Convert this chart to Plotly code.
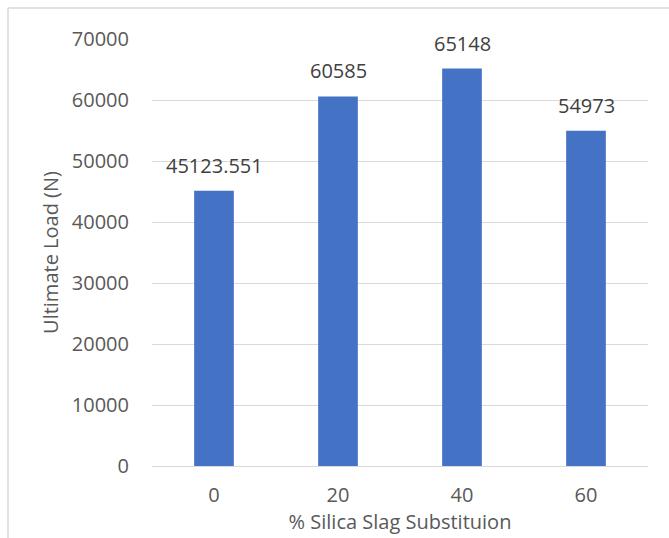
import plotly.graph_objects as go

# Ultimate load for each silica slag substitution level
substitution = ["0", "20", "40", "60"]
ultimate_load = [45123.551, 60585, 65148, 54973]

W, H = 669, 538
L, R, T, B = 152, 21, 39, 72

BAR_COLOR = "#4472C4"
GRID = "#D9D9D9"
TICK_TXT = "#595959"
LABEL_TXT = "#404040"
FONT = "Open Sans"

fig = go.Figure(
    go.Bar(
        x=substitution,
        y=ultimate_load,
        marker=dict(color=BAR_COLOR, line=dict(width=0)),
        hoverinfo="x+y",
    )
)

# value labels above each bar (category index positions)
for i, val in enumerate(ultimate_load):
    fig.add_annotation(
        x=i, y=val, xref="x", yref="y", text=str(val), showarrow=False,
        yanchor="bottom", yshift=10,
        font=dict(family=FONT, size=20, color=LABEL_TXT),
    )

# light frame around the chart area (top and left edges)
pw = W - L - R
ph = H - T - B
x0 = (8 - L) / pw
y0 = (H - B - 8) / ph
fig.add_shape(type="line", xref="paper", yref="paper",
              x0=x0, x1=(W - L) / pw + 0.1, y0=y0, y1=y0,
              line=dict(color=GRID, width=1.5))
fig.add_shape(type="line", xref="paper", yref="paper",
              x0=x0, x1=x0, y0=y0, y1=-(B + 10) / ph,
              line=dict(color=GRID, width=1.5))

fig.update_layout(
    width=W, height=H,
    margin=dict(l=L, r=R, t=T, b=B),
    paper_bgcolor="white", plot_bgcolor="white",
    showlegend=False,
    font=dict(family=FONT, size=20, color=TICK_TXT),
    bargap=0.68,
)
fig.update_xaxes(
    type="category", range=[-0.5, 3.5],
    title=dict(text="% Silica Slag Substituion",
               font=dict(family=FONT, size=20, color=TICK_TXT), standoff=1),
    tickfont=dict(family=FONT, size=20, color=TICK_TXT),
    showgrid=False, showline=False, zeroline=False,
    ticks="", ticklabelstandoff=15,
)
fig.update_yaxes(
    range=[0, 70000], dtick=10000, tickformat="d",
    title=dict(text="Ultimate Load (N)",
               font=dict(family=FONT, size=20, color=TICK_TXT), standoff=7),
    tickfont=dict(family=FONT, size=20, color=TICK_TXT),
    showgrid=True, gridcolor=GRID, gridwidth=1,
    zeroline=True, zerolinecolor=GRID, zerolinewidth=1,
    showline=False, ticks="", ticklabelstandoff=22,
)

fig.write_html("out.html")
